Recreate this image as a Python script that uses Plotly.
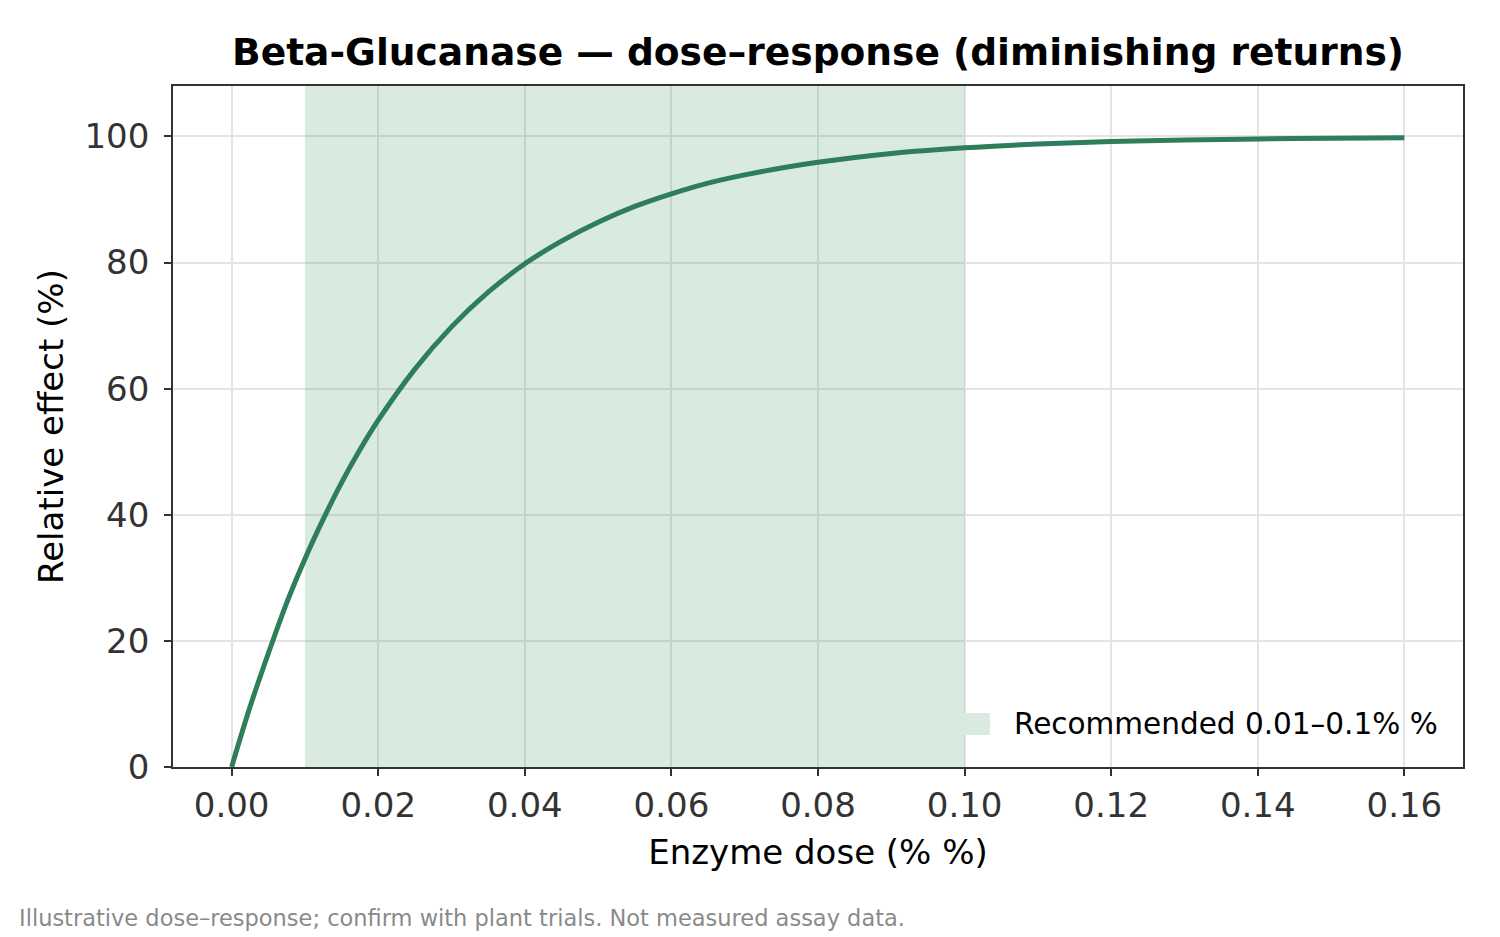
import plotly.graph_objects as go

# Data
dose = [0.0, 0.0025, 0.005, 0.0075, 0.01, 0.0125, 0.015, 0.0175, 0.02, 0.025, 0.03,
        0.035, 0.04, 0.045, 0.05, 0.055, 0.06, 0.065, 0.07, 0.075, 0.08, 0.09, 0.10,
        0.11, 0.12, 0.13, 0.14, 0.15, 0.16]
effect = [0.0, 9.5, 18.0, 26.0, 33.0, 39.3, 45.1, 50.3, 55.0, 63.1, 69.8,
          75.3, 79.8, 83.4, 86.4, 88.9, 90.9, 92.6, 93.9, 95.0, 95.9, 97.3, 98.2,
          98.8, 99.2, 99.45, 99.6, 99.72, 99.8]
rec_low, rec_high = 0.01, 0.10
rec_label = "Recommended 0.01–0.1% %"
x_ticks = [0.00, 0.02, 0.04, 0.06, 0.08, 0.10, 0.12, 0.14, 0.16]
y_ticks = [0, 20, 40, 60, 80, 100]

FONT = "DejaVu Sans"
L, R, T, B = 173, 37, 86, 170
W, H = 1500, 937
pw, ph = W - L - R, H - T - B
ymax = 108
BAND = "rgba(46,139,87,0.18)"
BAND_SOLID = "rgb(217,234,225)"

fig = go.Figure()
fig.add_trace(go.Scatter(
    x=[rec_low, rec_high, rec_high, rec_low, rec_low],
    y=[0, 0, ymax, ymax, 0],
    fill="toself", fillcolor=BAND,
    line=dict(width=0), mode="lines",
    name=rec_label, hoverinfo="skip", showlegend=False))
fig.add_trace(go.Scatter(
    x=dose, y=effect, mode="lines",
    line=dict(color="#2e7d5b", width=5, shape="spline", smoothing=1.0),
    showlegend=False))

axis_common = dict(showline=True, linecolor="#333333", linewidth=1.8, mirror=True,
                   ticks="outside", ticklen=7, tickwidth=1.6, tickcolor="#333333",
                   showgrid=True, gridcolor="#e4e4e4", gridwidth=1.5,
                   zeroline=False, tickfont=dict(family=FONT, size=34, color="#333333"),
                   layer="below traces")

# custom legend entry (patch + label) in the lower right of the plot area
leg_x0, leg_x1 = (932 - L) / pw, (990 - L) / pw
leg_y0, leg_y1 = (T + ph - 735) / ph, (T + ph - 713) / ph

fig.update_layout(
    width=W, height=H,
    margin=dict(l=L, r=R, t=T, b=B),
    paper_bgcolor="white", plot_bgcolor="white",
    font=dict(family=FONT),
    showlegend=False,
    title=dict(text="<b>Beta-Glucanase — dose–response (diminishing returns)</b>",
               x=(L + pw / 2) / W, xanchor="center", y=1 - 52 / H, yanchor="middle",
               font=dict(family=FONT, size=37.6, color="black")),
    xaxis=dict(range=[-0.008, 0.168], tickvals=x_ticks,
               ticktext=[f"{v:.2f}" for v in x_ticks],
               title=dict(text="Enzyme dose (% %)", standoff=16,
                          font=dict(family=FONT, size=34, color="black")),
               **axis_common),
    yaxis=dict(range=[0, ymax], tickvals=y_ticks, ticklabelstandoff=8,
               title=dict(text="Relative effect (%)", standoff=10,
                          font=dict(family=FONT, size=34, color="black")),
               **axis_common),
    shapes=[dict(type="rect", xref="paper", yref="paper",
                 x0=leg_x0, x1=leg_x1, y0=leg_y0, y1=leg_y1,
                 fillcolor=BAND_SOLID, line=dict(width=0))],
    annotations=[
        dict(text=rec_label, xref="paper", yref="paper",
             x=(1012 - L) / pw, y=(T + ph - 724) / ph,
             xanchor="left", yanchor="middle", showarrow=False,
             font=dict(family=FONT, size=29.5, color="black")),
        dict(text="Illustrative dose–response; confirm with plant trials. Not measured assay data.",
             xref="paper", yref="paper", x=(17 - L) / pw, y=(T + ph - 918) / ph,
             xanchor="left", yanchor="middle", showarrow=False,
             font=dict(family=FONT, size=22.5, color="#8a8a8a"))],
)

fig.write_html("out.html")
